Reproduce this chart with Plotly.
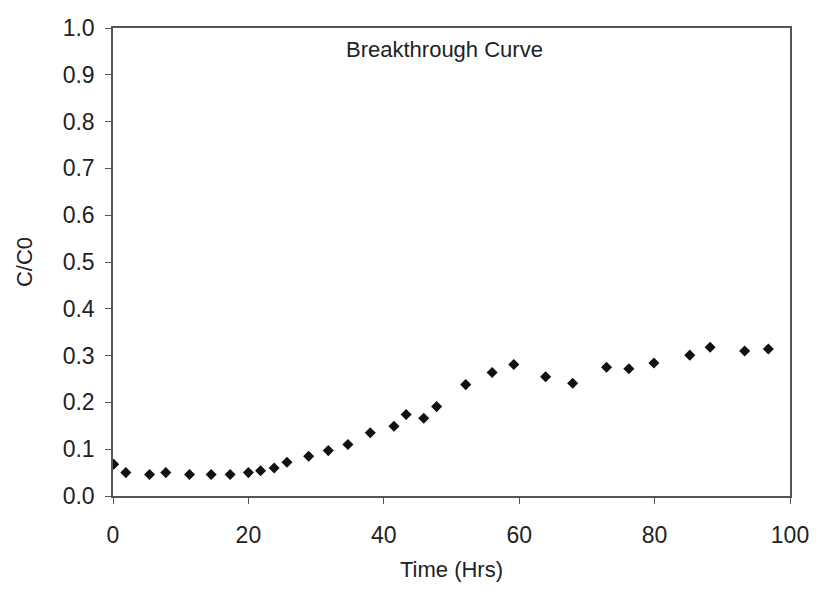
import plotly.graph_objects as go

# Breakthrough curve measurements: elapsed time (hours) and relative concentration C/C0
time_hrs = [0.1, 1.9, 5.4, 7.8, 11.3, 14.5, 17.3, 20.0, 21.8, 23.8, 25.7, 28.9,
            31.8, 34.7, 38.0, 41.5, 43.3, 45.9, 47.8, 52.1, 56.0, 59.2, 63.9,
            67.9, 72.9, 76.2, 79.9, 85.2, 88.2, 93.3, 96.8]
c_over_c0 = [0.068, 0.050, 0.046, 0.050, 0.046, 0.046, 0.046, 0.050, 0.054,
             0.060, 0.072, 0.085, 0.097, 0.110, 0.135, 0.149, 0.174, 0.166,
             0.191, 0.238, 0.264, 0.281, 0.255, 0.241, 0.275, 0.272, 0.284,
             0.301, 0.318, 0.310, 0.314]

x_ticks = [0, 20, 40, 60, 80, 100]
y_ticks = [0.0, 0.1, 0.2, 0.3, 0.4, 0.5, 0.6, 0.7, 0.8, 0.9, 1.0]

font_family = "Liberation Sans, Arial, sans-serif"
ink = "#222222"
axis_color = "#555555"

fig = go.Figure()
fig.add_trace(go.Scatter(
    x=time_hrs, y=c_over_c0, mode="markers",
    marker=dict(symbol="diamond", size=8.5, color="#111111"),
    showlegend=False,
))

fig.add_annotation(
    x=49, y=0.955, xref="x", yref="y", text="Breakthrough Curve",
    showarrow=False, font=dict(family=font_family, size=22, color=ink),
)

fig.update_xaxes(
    range=[0, 100], tickvals=x_ticks, ticktext=[str(v) for v in x_ticks],
    showgrid=False, zeroline=False, showline=True, linecolor=axis_color,
    linewidth=1.5, mirror=True, ticks="outside", ticklen=6, tickcolor=axis_color,
    ticklabelstandoff=12,
    tickfont=dict(family=font_family, size=23, color=ink),
    title=dict(text="Time (Hrs)", font=dict(family=font_family, size=22, color=ink),
               standoff=14),
)
fig.update_yaxes(
    range=[0, 1.0], tickvals=y_ticks, ticktext=[f"{v:.1f}" for v in y_ticks],
    showgrid=False, zeroline=False, showline=True, linecolor=axis_color,
    linewidth=1.5, mirror=True, ticks="outside", ticklen=6, tickcolor=axis_color,
    ticklabelstandoff=6,
    tickfont=dict(family=font_family, size=23, color=ink),
    title=dict(text="C/C0", font=dict(family=font_family, size=22, color=ink),
               standoff=24),
)

fig.update_layout(
    width=821, height=590,
    margin=dict(l=113, r=24, t=28, b=93),
    paper_bgcolor="white", plot_bgcolor="white",
)

fig.write_html("out.html")
